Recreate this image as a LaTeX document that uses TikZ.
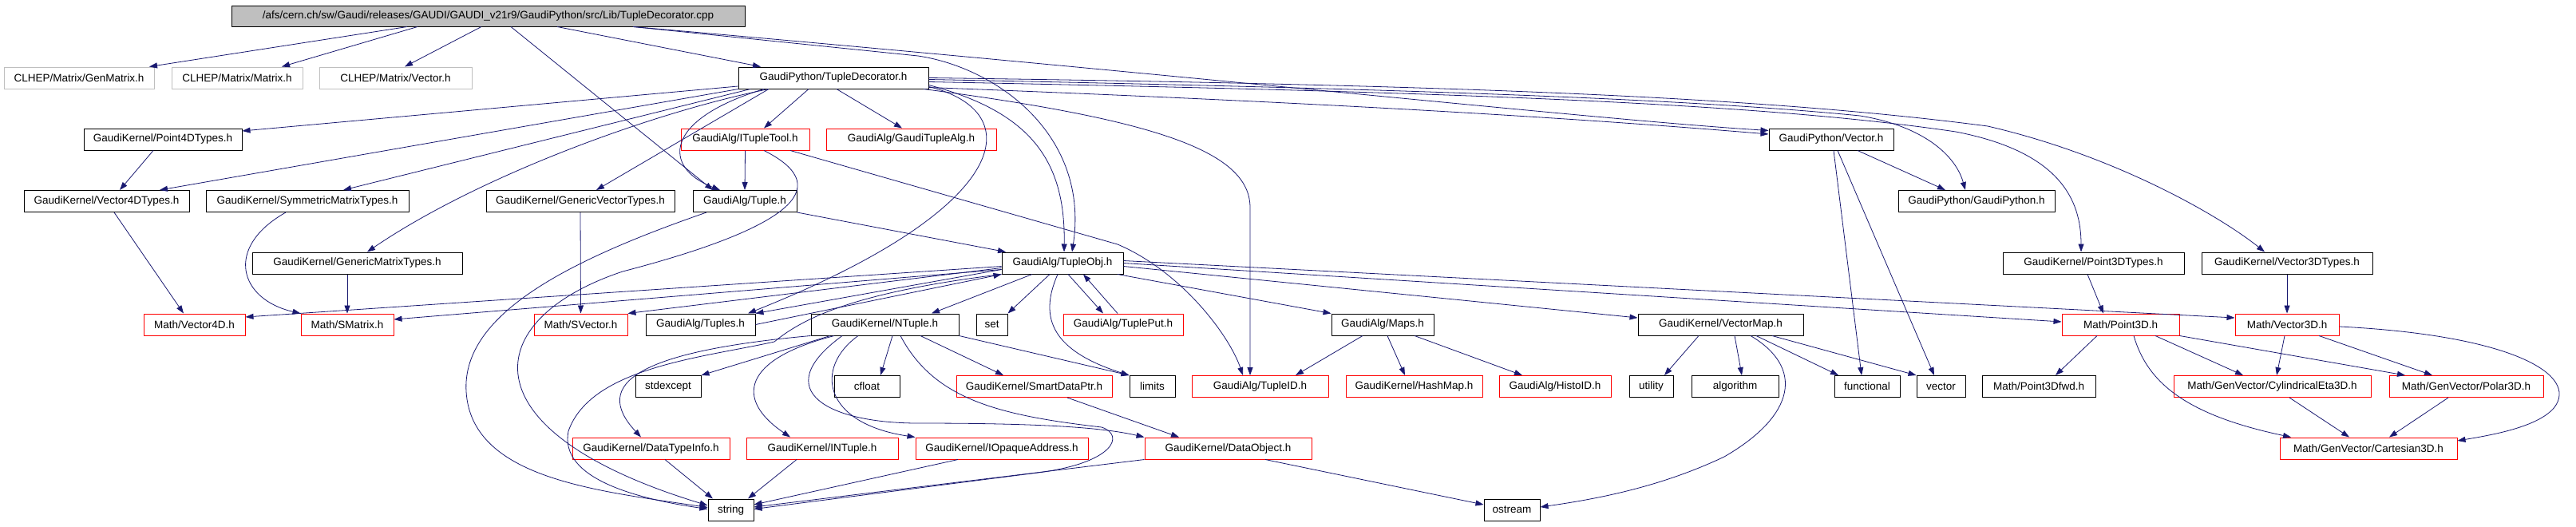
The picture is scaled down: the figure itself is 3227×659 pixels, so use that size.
\documentclass[tikz,border=0pt]{standalone}
\usepackage{fontspec}
\setmainfont{Liberation Sans}
\usetikzlibrary{arrows.meta}
\definecolor{edgec}{HTML}{191970}
\definecolor{grayb}{HTML}{BFBFBF}
\begin{document}
\begin{tikzpicture}[x=1pt,y=-1pt,
  every node/.style={font=\fontsize{13.5}{16}\selectfont, inner sep=0pt, minimum height=27pt, anchor=center},
  bk/.style={draw=black, line width=1pt},
  rd/.style={draw=red, line width=1pt},
  gy/.style={draw=grayb, line width=1pt},
  rt/.style={draw=black, fill=grayb, line width=1pt},
  e/.style={draw=edgec, line width=0.8pt, -{Triangle[length=10pt,width=7pt]}}]
\useasboundingbox (0,0) rectangle (3227,659);
% row 0
\node[rt, minimum width=643pt, minimum height=26pt] (root) at (611.5,20) {/afs/cern.ch/sw/Gaudi/releases/GAUDI/GAUDI\_v21r9/GaudiPython/src/Lib/TupleDecorator.cpp};
% row 1
\node[gy, minimum width=188pt] (genm) at (99,97.5) {CLHEP/Matrix/GenMatrix.h};
\node[gy, minimum width=164pt] (matx) at (297,97.5) {CLHEP/Matrix/Matrix.h};
\node[gy, minimum width=191pt] (clvec) at (495.5,97.5) {CLHEP/Matrix/Vector.h};
\node[bk, minimum width=238pt] (tdh) at (1044,97.5) {GaudiPython/TupleDecorator.h};
% row 2
\node[bk, minimum width=198pt] (p4d) at (204,174.5) {GaudiKernel/Point4DTypes.h};
\node[rd, minimum width=161pt] (itt) at (933.5,174.5) {GaudiAlg/ITupleTool.h};
\node[rd, minimum width=213pt] (gta) at (1141.5,174.5) {GaudiAlg/GaudiTupleAlg.h};
\node[bk, minimum width=156pt] (gpvec) at (2294,174.5) {GaudiPython/Vector.h};
% row 3
\node[bk, minimum width=207pt] (v4dt) at (133.5,252) {GaudiKernel/Vector4DTypes.h};
\node[bk, minimum width=254pt] (smt) at (385,252) {GaudiKernel/SymmetricMatrixTypes.h};
\node[bk, minimum width=236pt] (gvt) at (727,252) {GaudiKernel/GenericVectorTypes.h};
\node[bk, minimum width=130pt] (tuple) at (933,252) {GaudiAlg/Tuple.h};
\node[bk, minimum width=196pt] (gpgp) at (2476,252) {GaudiPython/GaudiPython.h};
% row 4
\node[bk, minimum width=263pt] (gmt) at (447.5,329.5) {GaudiKernel/GenericMatrixTypes.h};
\node[bk, minimum width=152pt] (tobj) at (1331,329.5) {GaudiAlg/TupleObj.h};
\node[bk, minimum width=227pt] (p3dt) at (2622.5,329.5) {GaudiKernel/Point3DTypes.h};
\node[bk, minimum width=214pt] (v3dt) at (2865,329.5) {GaudiKernel/Vector3DTypes.h};
% row 5
\node[rd, minimum width=127pt] (v4d) at (243.5,406.5) {Math/Vector4D.h};
\node[rd, minimum width=116pt] (smat) at (435,406.5) {Math/SMatrix.h};
\node[rd, minimum width=117pt] (svec) at (727.5,406.5) {Math/SVector.h};
\node[bk, minimum width=137pt] (tuples) at (877.5,406.5) {GaudiAlg/Tuples.h};
\node[bk, minimum width=185pt] (ntuple) at (1108.5,406.5) {GaudiKernel/NTuple.h};
\node[bk, minimum width=39pt] (set) at (1242.5,406.5) {set};
\node[rd, minimum width=150pt] (tput) at (1407,406.5) {GaudiAlg/TuplePut.h};
\node[bk, minimum width=128pt] (maps) at (1732,406.5) {GaudiAlg/Maps.h};
\node[bk, minimum width=207pt] (vmap) at (2155.5,406.5) {GaudiKernel/VectorMap.h};
\node[rd, minimum width=147pt] (p3d) at (2656.5,406.5) {Math/Point3D.h};
\node[rd, minimum width=130pt] (v3d) at (2865,406.5) {Math/Vector3D.h};
% row 6
\node[bk, minimum width=82pt] (stdexc) at (837,484) {stdexcept};
\node[bk, minimum width=82pt] (cfloat) at (1086,484) {cfloat};
\node[rd, minimum width=195pt] (sdp) at (1295.5,484) {GaudiKernel/SmartDataPtr.h};
\node[bk, minimum width=57pt] (limits) at (1443.5,484) {limits};
\node[rd, minimum width=171pt] (tid) at (1578.5,484) {GaudiAlg/TupleID.h};
\node[rd, minimum width=171pt] (hmap) at (1771.5,484) {GaudiKernel/HashMap.h};
\node[rd, minimum width=140pt] (hid) at (1948,484) {GaudiAlg/HistoID.h};
\node[bk, minimum width=55pt] (util) at (2068.5,484) {utility};
\node[bk, minimum width=109pt] (algo) at (2173.5,484) {algorithm};
\node[bk, minimum width=82pt] (func) at (2339,484) {functional};
\node[bk, minimum width=61pt] (vect) at (2431.5,484) {vector};
\node[bk, minimum width=142pt] (p3fwd) at (2554,484) {Math/Point3Dfwd.h};
\node[rd, minimum width=247pt] (cyl) at (2846.5,484) {Math/GenVector/CylindricalEta3D.h};
\node[rd, minimum width=193pt] (polar) at (3089.5,484) {Math/GenVector/Polar3D.h};
% row 7
\node[rd, minimum width=197pt] (dti) at (815.5,561.5) {GaudiKernel/DataTypeInfo.h};
\node[rd, minimum width=190pt] (intuple) at (1030,561.5) {GaudiKernel/INTuple.h};
\node[rd, minimum width=216pt] (ioa) at (1255,561.5) {GaudiKernel/IOpaqueAddress.h};
\node[rd, minimum width=209pt] (dobj) at (1538.5,561.5) {GaudiKernel/DataObject.h};
\node[rd, minimum width=222pt] (cart) at (2967,561.5) {Math/GenVector/Cartesian3D.h};
% row 8
\node[bk, minimum width=57pt] (string) at (915.5,638.5) {string};
\node[bk, minimum width=70pt] (ostream) at (1894,638.5) {ostream};
% ---- edges from root
\draw[e] ([xshift=-101.5pt]root.south) -- ([xshift=88pt]genm.north);
\draw[e] ([xshift=-88.5pt]root.south) -- ([xshift=56pt]matx.north);
\draw[e] ([xshift=-8.5pt]root.south) -- ([xshift=11.5pt]clvec.north);
\draw[e] ([xshift=86.5pt]root.south) -- ([xshift=-91pt]tdh.north);
\draw[e] ([xshift=28.5pt]root.south) -- ([xshift=-40pt]tuple.north);
\draw[e] ([xshift=181.5pt]root.south) -- (1150,70) .. controls (1250,85) and (1365,170) .. ([xshift=12pt]tobj.north);
\draw[e] ([xshift=181.5pt]root.south) .. controls (1500,95) and (2000,150) .. ([yshift=11pt]gpvec.west);
% ---- edges from TupleDecorator.h
\draw[e] ([yshift=-10.5pt]tdh.west) -- ([yshift=10.5pt]p4d.east);
\draw[e] ([xshift=-119pt]tdh.south) -- ([xshift=66.5pt]v4dt.north);
\draw[e] ([xshift=-104pt]tdh.south) -- ([xshift=45pt]smt.north);
\draw[e] ([xshift=-81pt]tdh.south) .. controls (820,140) and (600,220) .. ([xshift=12.5pt]gmt.north);
\draw[e] ([xshift=-81pt]tdh.south) -- ([xshift=20pt]gvt.north);
\draw[e] ([xshift=-87pt]tdh.south) .. controls (830,150) and (830,210) .. ([xshift=-31pt]tuple.north);
\draw[e] ([xshift=-31pt]tdh.south) -- ([xshift=23.5pt]itt.north);
\draw[e] ([xshift=4pt]tdh.south) -- ([xshift=-11.5pt]gta.north);
\draw[e] ([yshift=-9pt]tdh.east) .. controls (1290,140) and (1335,200) .. ([xshift=2pt]tobj.north);
\draw[e] ([yshift=-11pt]tdh.east) .. controls (1290,140) and (1270,260) .. ([xshift=59.5pt]tuples.north);
\draw[e] ([xshift=113pt]tdh.south) .. controls (1450,150) and (1566,190) .. (1566,260) -- ([xshift=-12.5pt]tid.north);
\draw[e] ([yshift=-12pt]tdh.east) .. controls (1700,130) and (2000,150) .. ([yshift=6.5pt]gpvec.west);
\draw[e] ([yshift=-2pt]tdh.east) .. controls (1700,110) and (2100,122) .. (2330,145) .. controls (2410,158) and (2450,195) .. ([xshift=-14pt]gpgp.north);
\draw[e] ([yshift=-5pt]tdh.east) .. controls (1800,115) and (2200,128) .. (2450,165) .. controls (2580,190) and (2607,250) .. ([xshift=-15.5pt]p3dt.north);
\draw[e] (tdh.east) .. controls (1800,106) and (2200,120) .. (2490,158) .. controls (2650,195) and (2780,270) .. ([xshift=-28pt]v3dt.north);
% ---- ITupleTool / Tuple
\draw[e] (itt.south) -- (tuple.north);
\draw[e] ([xshift=56.5pt]itt.south) -- (1400,306) .. controls (1480,340) and (1540,420) .. ([xshift=-21.5pt]tid.north);
\draw[e] ([xshift=23.5pt]itt.south) .. controls (1040,230) and (1010,280) .. (780,340) .. controls (600,400) and (580,540) .. ([yshift=5.5pt]string.west);
\draw[e] (tuple.south east) -- ([xshift=-71pt]tobj.north);
\draw[e] ([xshift=-48pt]tuple.south) .. controls (700,330) and (570,400) .. (585,500) .. controls (600,600) and (750,615) .. ([yshift=3pt]string.west);
% ---- TupleObj
\draw[e] ([xshift=-38pt]tobj.south) -- ([xshift=58.5pt]ntuple.north);
\draw[e] ([xshift=-16pt]tobj.south) -- (set.north east);
\draw[e] ([xshift=7pt]tobj.south) -- ([xshift=-25pt]tput.north);
\draw[e] ([xshift=-7pt]tput.north) -- ([xshift=26pt]tobj.south);
\draw[e] ([xshift=-6pt]tobj.south) .. controls (1300,400) and (1320,440) .. (limits.north west);
\draw[e] ([xshift=69pt]tobj.south) -- (maps.north west);
\draw[e] ([yshift=-4pt]tobj.east) -- ([yshift=8.5pt]vmap.west);
\draw[e] (tobj.east) -- ([yshift=3.5pt]p3d.west);
\draw[e] ([yshift=3pt]tobj.east) -- ([yshift=8.5pt]v3d.west);
\draw[e] ([yshift=-8pt]tobj.west) -- (tuples.north east);
\draw[e] (tuples.east) -- (tobj.south west);
\draw[e] ([yshift=-6pt]tobj.west) -- (svec.north east);
\draw[e] ([yshift=-8pt]tobj.west) -- ([yshift=6.5pt]smat.east);
\draw[e] ([yshift=-4pt]tobj.west) -- ([yshift=9.5pt]v4d.east);
\draw[e] (tobj.south west) .. controls (1080,365) and (1010,395) .. (970,428) .. controls (880,448) and (740,460) .. (712,540) .. controls (700,600) and (800,625) .. ([yshift=1pt]string.west);
% ---- NTuple
\draw[e] (ntuple.south east) -- (limits.north west);
\draw[e] ([xshift=-68.5pt]ntuple.south) -- (stdexc.north east);
\draw[e] (ntuple.south west) .. controls (800,440) and (740,480) .. ([xshift=-12.5pt]dti.north);
\draw[e] ([xshift=-63.5pt]ntuple.south) .. controls (930,450) and (920,500) .. ([xshift=-40pt]intuple.north);
\draw[e] ([xshift=-33.5pt]ntuple.south) .. controls (1020,460) and (1030,530) .. (ioa.north west);
\draw[e] ([xshift=-53.5pt]ntuple.south) .. controls (960,490) and (1040,530) .. (1150,530) .. controls (1300,530) and (1380,535) .. (dobj.north west);
\draw[e] ([xshift=9.5pt]ntuple.south) -- ([xshift=17pt]cfloat.north);
\draw[e] ([xshift=44.5pt]ntuple.south) -- ([xshift=-38.5pt]sdp.north);
\draw[e] ([xshift=19.5pt]ntuple.south) .. controls (1170,500) and (1250,520) .. (1380,535) .. controls (1410,545) and (1395,580) .. (1300,592) -- ([yshift=1pt]string.east);
\draw[e] ([xshift=41.5pt]sdp.south) -- ([xshift=-61.5pt]dobj.north);
% ---- row 7 to string / ostream
\draw[e] ([xshift=17.5pt]dti.south) -- ([xshift=-22.5pt]string.north);
\draw[e] ([xshift=-32pt]intuple.south) -- ([xshift=21.5pt]string.north);
\draw[e] ([xshift=-55pt]ioa.south) -- ([yshift=6.5pt]string.east);
\draw[e] (dobj.south west) -- ([yshift=3.5pt]string.east);
\draw[e] ([xshift=46.5pt]dobj.south) -- ([yshift=6.5pt]ostream.west);
% ---- Maps, VectorMap
\draw[e] ([xshift=-25pt]maps.south) -- ([xshift=44.5pt]tid.north);
\draw[e] ([xshift=6pt]maps.south) -- ([xshift=-11.5pt]hmap.north);
\draw[e] ([xshift=40pt]maps.south) -- ([xshift=-41pt]hid.north);
\draw[e] ([xshift=-27.5pt]vmap.south) -- ([xshift=16.5pt]util.north);
\draw[e] ([xshift=17.5pt]vmap.south) -- ([xshift=8.5pt]algo.north);
\draw[e] ([xshift=44.5pt]vmap.south) -- ([xshift=-36pt]func.north);
\draw[e] ([xshift=64.5pt]vmap.south) -- (vect.north west);
\draw[e] ([xshift=37.5pt]vmap.south) .. controls (2260,460) and (2250,520) .. (2160,572) .. controls (2080,610) and (2000,625) .. ([yshift=3.5pt]ostream.east);
% ---- GaudiPython/Vector.h
\draw[e] ([xshift=33pt]gpvec.south) -- ([xshift=-39pt]gpgp.north);
\draw[e] ([xshift=3pt]gpvec.south) -- ([xshift=-7pt]func.north);
\draw[e] ([xshift=8pt]gpvec.south) -- ([xshift=-8.5pt]vect.north);
% ---- 3D types
\draw[e] ([xshift=-7.5pt]p3dt.south) -- ([xshift=-21.5pt]p3d.north);
\draw[e] (v3dt.south) -- (v3d.north);
\draw[e] ([xshift=-29.5pt]p3d.south) -- ([xshift=21pt]p3fwd.north);
\draw[e] ([xshift=43.5pt]p3d.south) -- ([xshift=-36.5pt]cyl.north);
\draw[e] (p3d.south east) -- ([xshift=-76.5pt]polar.north);
\draw[e] ([xshift=16.5pt]p3d.south) .. controls (2690,480) and (2740,520) .. ([xshift=-97pt]cart.north);
\draw[e] ([xshift=-3pt]v3d.south) -- ([xshift=5.5pt]cyl.north);
\draw[e] ([xshift=40pt]v3d.south) -- ([xshift=-42.5pt]polar.north);
\draw[e] ([yshift=-2.5pt]v3d.east) .. controls (3150,420) and (3230,470) .. (3200,510) .. controls (3180,535) and (3120,545) .. ([yshift=9.5pt]cart.east);
\draw[e] ([xshift=21.5pt]cyl.south) -- ([xshift=-24pt]cart.north);
\draw[e] ([xshift=-22.5pt]polar.south) -- ([xshift=26pt]cart.north);
% ---- 4D / matrix
\draw[e] ([xshift=9.5pt]v4dt.south) -- ([xshift=-13.5pt]v4d.north);
\draw[e] ([xshift=-12pt]p4d.south) -- ([xshift=16.5pt]v4dt.north);
\draw[e] ([xshift=-27pt]smt.south) .. controls (280,310) and (300,375) .. (smat.north west);
\draw[e] ([xshift=-12.5pt]gmt.south) -- (smat.north);
\draw[e] (gvt.south) -- (svec.north);
\end{tikzpicture}
\end{document}
